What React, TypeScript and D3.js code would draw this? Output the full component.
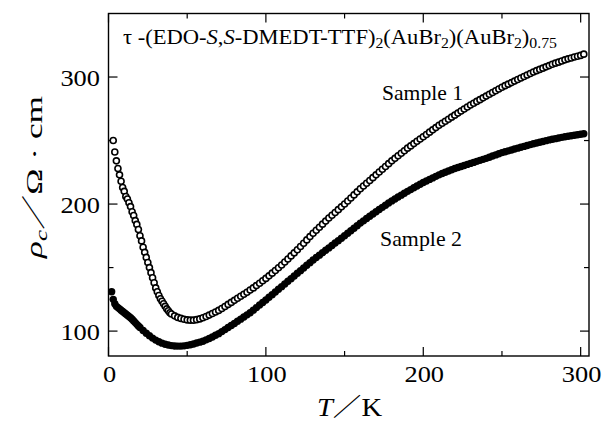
import * as d3 from 'd3';
import React from 'react';

// sample 1 (open circles), T in K, rho_c in ohm cm
const tempS1 = [
  3, 4, 5, 6, 7, 8, 9, 10, 11, 12, 13, 14, 15, 16, 17, 18, 19, 20, 21, 22, 23, 24, 25, 26, 27, 28, 29, 30,
  31, 32, 33, 34, 35, 36, 37, 38, 39, 40,
  42, 44, 46, 48, 50, 52, 54, 56, 58, 60, 62, 64, 66, 68, 70, 72, 74, 76, 78, 80, 82, 84, 86, 88, 90,
  92, 94, 96, 98, 100, 102, 104, 106, 108, 110, 112, 114, 116, 118, 120, 122, 124, 126, 128, 130,
  132, 134, 136, 138, 140, 142, 144, 146, 148, 150, 152, 154, 156, 158, 160, 162, 164, 166, 168, 170,
  172, 174, 176, 178, 180, 182, 184, 186, 188, 190, 192, 194, 196, 198, 200, 202, 204, 206, 208, 210,
  212, 214, 216, 218, 220, 222, 224, 226, 228, 230, 232, 234, 236, 238, 240, 242, 244, 246, 248, 250,
  252, 254, 256, 258, 260, 262, 264, 266, 268, 270, 272, 274, 276, 278, 280, 282, 284, 286, 288, 290,
  292, 294, 296, 298, 300, 302,
];
const rhoS1 = [
  250, 241, 234, 228, 223, 218, 213, 210, 206, 204, 201, 198, 194, 191, 187, 184, 180, 175, 171, 166, 162, 158, 154, 150, 146, 142, 138, 134,
  131, 128, 125.5, 123.5, 121.5, 119.5, 117.5, 116, 114.5, 113.5,
  112, 110.8, 110, 109.3, 108.8, 108.6, 108.6, 109, 109.6, 110.5, 111.5, 112.6, 113.8, 115, 116.3, 117.8, 119.4, 121, 122.6, 124.2, 125.8, 127.4, 129, 130.6, 132.3,
  134, 135.8, 137.7, 139.6, 141.5, 143.5, 145.6, 147.7, 149.9, 152, 154.4, 156.8, 159.2, 161.6, 164, 166.6, 169.2, 171.8, 174.4, 177,
  179.4, 181.8, 184.2, 186.6, 189, 191.2, 193.4, 195.6, 197.8, 200, 202.4, 204.8, 207.2, 209.6, 212, 214.2, 216.4, 218.6, 220.8, 223,
  225.2, 227.4, 229.6, 231.8, 234, 236, 238, 240, 242, 244, 245.8, 247.6, 249.4, 251.2, 253, 254.8, 256.6, 258.4, 260.2, 262,
  263.6, 265.2, 266.8, 268.4, 270, 271.6, 273.2, 274.8, 276.4, 278, 279.4, 280.8, 282.2, 283.6, 285, 286.4, 287.8, 289.2, 290.6, 292,
  293.2, 294.4, 295.6, 296.8, 298, 299.2, 300.4, 301.6, 302.8, 304, 305, 306, 307, 308, 309, 310, 310.9, 311.7, 312.6, 313.5,
  314.3, 315, 315.8, 316.4, 317, 318,
];

// sample 2 (filled circles)
const tempS2 = [
  2, 3, 4, 5, 6, 7, 8, 9, 10, 11, 12, 13, 14, 15, 16, 17, 18, 19, 20,
  22, 24, 26, 28, 30, 32, 34, 36, 38, 40, 42, 44, 46, 48, 50, 52, 54, 56, 58, 60, 62, 64, 66, 68, 70,
  72, 74, 76, 78, 80, 82, 84, 86, 88, 90, 92, 94, 96, 98, 100, 102, 104, 106, 108, 110, 112, 114, 116, 118, 120,
  122, 124, 126, 128, 130, 132, 134, 136, 138, 140, 142, 144, 146, 148, 150, 152, 154, 156, 158, 160,
  162, 164, 166, 168, 170, 172, 174, 176, 178, 180, 182, 184, 186, 188, 190, 192, 194, 196, 198, 200,
  202, 204, 206, 208, 210, 212, 214, 216, 218, 220, 222, 224, 226, 228, 230, 232, 234, 236, 238, 240,
  242, 244, 246, 248, 250, 252, 254, 256, 258, 260, 262, 264, 266, 268, 270, 272, 274, 276, 278, 280,
  282, 284, 286, 288, 290, 292, 294, 296, 298, 300, 302,
];
const rhoS2 = [
  131, 125, 121.5, 119.5, 118.5, 117.5, 116.5, 115.5, 114.5, 113.5, 112.5, 111.5, 110.5, 109.3, 108, 106.7, 105.3, 104, 102.8,
  100.5, 98.3, 96.3, 94.5, 92.9, 91.6, 90.5, 89.6, 89, 88.6, 88.3, 88.2, 88.2, 88.4, 88.8, 89.3, 89.9, 90.6, 91.3, 92, 93.1, 94.2, 95.4, 96.7, 98,
  99.6, 101.2, 102.8, 104.4, 106, 107.7, 109.4, 111.1, 112.8, 114.5, 116.5, 118.5, 120.5, 122.5, 124.5, 126.6, 128.7, 130.8, 132.9, 135, 137.1, 139.2, 141.3, 143.4, 145.5,
  147.6, 149.7, 151.8, 153.9, 156, 157.9, 159.8, 161.7, 163.6, 165.5, 167.4, 169.3, 171.2, 173.1, 175, 177, 179, 181, 183, 185,
  186.8, 188.6, 190.4, 192.2, 194, 195.7, 197.4, 199.1, 200.8, 202.5, 204, 205.5, 207, 208.5, 210, 211.4, 212.8, 214.2, 215.6, 217,
  218.2, 219.4, 220.6, 221.8, 223, 224, 225, 226, 227, 228, 228.8, 229.6, 230.4, 231.2, 232, 232.8, 233.6, 234.4, 235.2, 236,
  236.9, 237.8, 238.7, 239.6, 240.5, 241.2, 241.9, 242.6, 243.3, 244, 244.7, 245.4, 246.1, 246.8, 247.5, 248.1, 248.7, 249.3, 249.9, 250.5,
  251, 251.5, 252, 252.5, 253, 253.4, 253.8, 254.2, 254.6, 255, 255.3,
];

const xMajor = [0, 100, 200, 300];
const xMinor = [50, 150, 250];
const yMajor = [100, 200, 300];
const yMinor = [150, 250];

const W = 605, H = 424;
const left = 108.5, right = 589, top = 13.5, bottom = 356;
const font = 'Liberation Serif, Times New Roman, Times, DejaVu Serif, serif';
const cjk = 'Noto Sans CJK JP, Noto Sans CJK SC, sans-serif';

export default function App() {
  const x = d3.scaleLinear().domain([0, 305.3]).range([left, right]);
  const y = d3.scaleLinear().domain([80.4, 350]).range([bottom, top]);

  const s1 = tempS1.map((t, i) => [t, rhoS1[i]]);
  const s2 = tempS2.map((t, i) => [t, rhoS2[i]]);

  const major = 9, minor = 5;
  const ts = { fontFamily: font };
  const digitW = 13.2;

  return (
    <div style={{ position: 'absolute', left: 0, top: 0 }}>
      <svg width={W} height={H} style={{ display: 'block', background: '#fff', fontFamily: font }}>
        {/* frame */}
        <rect x={left} y={top} width={right - left} height={bottom - top} fill="none" stroke="#000" strokeWidth={1.4} />

        {/* x ticks bottom + top */}
        {xMajor.map(v => (
          <g key={'xm' + v}>
            <line x1={x(v)} x2={x(v)} y1={bottom} y2={bottom - major} stroke="#000" strokeWidth={1.2} />
            <line x1={x(v)} x2={x(v)} y1={top} y2={top + major} stroke="#000" strokeWidth={1.2} />
            <text style={ts} x={x(v) + 1} y={382} textAnchor="middle" fontSize={23}
              textLength={String(v).length * digitW} lengthAdjust="spacingAndGlyphs">{v}</text>
          </g>
        ))}
        {xMinor.map(v => (
          <g key={'xn' + v}>
            <line x1={x(v)} x2={x(v)} y1={bottom} y2={bottom - minor} stroke="#000" strokeWidth={1.2} />
            <line x1={x(v)} x2={x(v)} y1={top} y2={top + minor} stroke="#000" strokeWidth={1.2} />
          </g>
        ))}

        {/* y ticks left + right */}
        {yMajor.map(v => (
          <g key={'ym' + v}>
            <line x1={left} x2={left + major} y1={y(v)} y2={y(v)} stroke="#000" strokeWidth={1.2} />
            <line x1={right} x2={right - major} y1={y(v)} y2={y(v)} stroke="#000" strokeWidth={1.2} />
            <text style={ts} x={100} y={y(v) + 9} textAnchor="end" fontSize={23}
              textLength={String(v).length * digitW} lengthAdjust="spacingAndGlyphs">{v}</text>
          </g>
        ))}
        {yMinor.map(v => (
          <g key={'yn' + v}>
            <line x1={left} x2={left + minor} y1={y(v)} y2={y(v)} stroke="#000" strokeWidth={1.2} />
            <line x1={right} x2={right - minor} y1={y(v)} y2={y(v)} stroke="#000" strokeWidth={1.2} />
          </g>
        ))}

        {/* sample 2 : filled */}
        {s2.map(([t, r], i) => (
          <circle key={'b' + i} cx={x(t)} cy={y(r)} r={3.7} fill="#000" />
        ))}

        {/* sample 1 : open */}
        {s1.map(([t, r], i) => (
          <circle key={'a' + i} cx={x(t)} cy={y(r)} r={3} fill="#fff" stroke="#000" strokeWidth={1.6} />
        ))}

        {/* title */}
        <text style={ts} x={123} y={43.5} fontSize={20} textLength={434} lengthAdjust="spacingAndGlyphs">
          <tspan>τ -(EDO-</tspan>
          <tspan fontStyle="italic">S</tspan>
          <tspan>,</tspan>
          <tspan fontStyle="italic">S</tspan>
          <tspan>-DMEDT-TTF)</tspan>
          <tspan fontSize={14} dy={4}>2</tspan>
          <tspan dy={-4}>(AuBr</tspan>
          <tspan fontSize={14} dy={4}>2</tspan>
          <tspan dy={-4}>)(AuBr</tspan>
          <tspan fontSize={14} dy={4}>2</tspan>
          <tspan dy={-4}>)</tspan>
          <tspan fontSize={14} dy={4}>0.75</tspan>
        </text>

        <text style={ts} x={382} y={100} fontSize={21} textLength={81} lengthAdjust="spacingAndGlyphs">Sample 1</text>
        <text style={ts} x={380} y={246} fontSize={21} textLength={82} lengthAdjust="spacingAndGlyphs">Sample 2</text>

        {/* x label */}
        <text style={ts} x={317} y={416} fontSize={25} textLength={65} lengthAdjust="spacingAndGlyphs">
          <tspan fontStyle="italic">T</tspan>
          <tspan style={{ fontFamily: cjk }}>／</tspan>
          <tspan>K</tspan>
        </text>

        {/* y label */}
        <text style={ts} transform="translate(42,258) rotate(-90)" fontSize={24} textLength={162} lengthAdjust="spacingAndGlyphs">
          <tspan fontStyle="italic">ρ</tspan>
          <tspan fontStyle="italic" fontSize={17} dy={5}>c</tspan>
          <tspan style={{ fontFamily: cjk }} dy={-5}>／</tspan>
          <tspan>Ω · cm</tspan>
        </text>
      </svg>
    </div>
  );
}
